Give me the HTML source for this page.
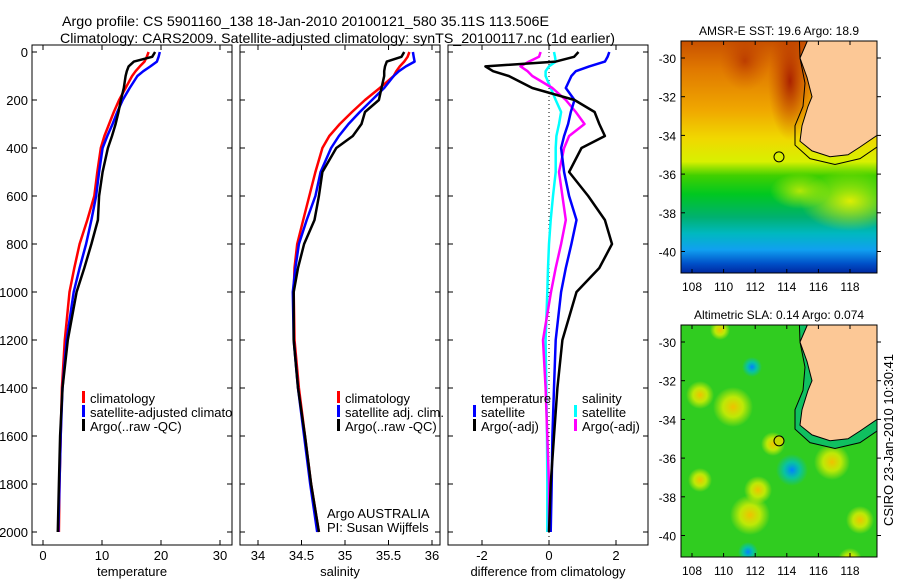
<!DOCTYPE html>
<html><head><meta charset="utf-8"><style>
body{margin:0;background:#fff;}
svg{display:block;font-family:"Liberation Sans",sans-serif;}
</style></head><body>
<svg id="fig" width="900" height="580" viewBox="0 0 900 580" xmlns="http://www.w3.org/2000/svg">
<rect width="900" height="580" fill="#fff"/>
<text x="62" y="26" font-size="14" textLength="487" lengthAdjust="spacingAndGlyphs">Argo profile: CS 5901160_138 18-Jan-2010 20100121_580 35.11S 113.506E</text>
<text x="60" y="43" font-size="14" textLength="555" lengthAdjust="spacingAndGlyphs">Climatology: CARS2009. Satellite-adjusted climatology: synTS_20100117.nc (1d earlier)</text>
<defs><clipPath id="p1clip"><rect x="32" y="45" width="200" height="500"/></clipPath></defs>
<g id="panels"></g>
<g id="maps"></g>
<text transform="translate(893,440) rotate(-90)" text-anchor="middle" font-size="13">CSIRO 23-Jan-2010 10:30:41</text>
</svg>
<script>
// depths (dbar) shared by profiles
const depths=[0,20,40,60,80,100,150,200,250,300,350,400,500,600,700,800,900,1000,1200,1400,1600,1800,2000];
const tempClim=[17.9,17.6,17.2,16.4,15.7,15.1,14.0,12.9,12.0,11.2,10.4,9.8,9.2,8.7,7.5,6.2,5.3,4.5,3.7,3.2,3.0,2.8,2.7];
const tempSat=[19.8,19.6,19.3,18.2,17.0,16.0,14.7,13.5,12.6,11.8,10.9,10.1,9.5,9.0,8.2,7.3,6.2,5.2,4.0,3.3,3.0,2.8,2.6];
const tempArgo=[19.0,18.5,15.4,14.5,14.2,14.0,13.7,13.2,12.8,12.3,11.7,11.0,10.1,9.5,9.3,8.2,7.0,5.7,4.2,3.3,2.9,2.7,2.5];
const salClim=[35.74,35.72,35.68,35.63,35.59,35.56,35.40,35.23,35.08,34.94,34.82,34.74,34.66,34.59,34.52,34.45,34.42,34.41,34.42,34.47,34.54,34.61,34.70];
const salSat=[35.78,35.79,35.80,35.70,35.62,35.56,35.45,35.31,35.17,35.04,34.93,34.84,34.72,34.66,34.56,34.47,34.43,34.40,34.41,34.46,34.53,34.60,34.68];
const salArgo=[35.68,35.65,35.48,35.46,35.45,35.45,35.42,35.39,35.23,35.19,35.09,34.90,34.74,34.70,34.65,34.53,34.46,34.41,34.41,34.46,34.54,34.61,34.70];
const dTempSat=[1.8,1.75,1.67,1.2,0.8,0.67,0.5,0.76,0.65,0.57,0.45,0.36,0.45,0.6,0.82,0.67,0.5,0.36,0.2,0.15,0.1,0.08,0.05];
const dTempArgo=[0.88,0.75,0.2,-1.9,-1.67,-1.2,-0.5,0.76,1.36,1.5,1.67,0.97,0.6,1.17,1.67,1.88,1.5,0.82,0.4,0.25,0.15,0.05,0.0];
const dSalSat=[0.15,0.18,0.2,0.0,-0.1,-0.1,0.05,0.2,0.36,0.3,0.22,0.2,0.2,0.12,0.05,0.0,-0.03,-0.05,-0.1,-0.08,-0.06,-0.05,-0.05];
const dSalArgo=[-0.25,-0.3,-0.6,-0.85,-0.64,-0.5,0.1,0.5,0.8,1.06,0.6,0.45,0.3,0.4,0.5,0.36,0.2,0.06,-0.18,-0.1,-0.05,0.0,0.0];
const depthTicks=[0,200,400,600,800,1000,1200,1400,1600,1800,2000];
const tempTicks=[0,10,20,30];
const salTicks=[34,34.5,35,35.5,36];
const diffTicks=[-2,0,2];

const NS="http://www.w3.org/2000/svg";
function mk(tag,attrs,parent,txt){const e=document.createElementNS(NS,tag);for(const k in attrs)e.setAttribute(k,attrs[k]);if(txt!==undefined)e.textContent=txt;parent.appendChild(e);return e;}
const yScale=d=>52+0.24*d;
const panelsG=document.getElementById('panels');
const panels=[
 {name:'temperature',x0:32,x1:232,xs:v=>43+5.9*v,ticks:tempTicks,title:'temperature',
  series:[[tempClim,'#f00',2.5],[tempSat,'#00f',2.5],[tempArgo,'#000',2.5]]},
 {name:'salinity',x0:240,x1:440,xs:v=>258+87*(v-34),ticks:salTicks,title:'salinity',
  series:[[salClim,'#f00',2.5],[salSat,'#00f',2.5],[salArgo,'#000',2.5]]},
 {name:'difference',x0:448,x1:648,xs:v=>549+33.5*v,ticks:diffTicks,title:'difference from climatology',
  series:[[dSalSat,'#0ff',2.5],[dSalArgo,'#f0f',2.5],[dTempSat,'#00f',2.5],[dTempArgo,'#000',2.5]]}
];
panels.forEach((p,pi)=>{
  const g=mk('g',{},panelsG);
  
  
  const fr=mk('rect',{x:p.x0,y:45,width:p.x1-p.x0,height:500,fill:'none',stroke:'#000','stroke-width':1},g);
  
  
  depthTicks.forEach(d=>{
    const y=yScale(d);
    mk('line',{x1:p.x0,x2:p.x0+5,y1:y,y2:y,stroke:'#000'},g);
    mk('line',{x1:p.x1-5,x2:p.x1,y1:y,y2:y,stroke:'#000'},g);
    if(pi===0){const t=mk('text',{x:28,y:y+5,'text-anchor':'end','font-size':13},g,String(d));
      
      }
  });
  p.ticks.forEach(v=>{
    const x=p.xs(v);
    mk('line',{x1:x,x2:x,y1:545,y2:540,stroke:'#000'},g);
    mk('line',{x1:x,x2:x,y1:45,y2:50,stroke:'#000'},g);
    const t=mk('text',{x:x,y:560,'text-anchor':'middle','font-size':13},g,String(v));
    
    
  });
  const at=mk('text',{x:(p.x0+p.x1)/2,y:576,'text-anchor':'middle','font-size':13},g,p.title);
  
  
  if(pi===2){mk('line',{x1:p.xs(0),x2:p.xs(0),y1:52,y2:545,stroke:'#000','stroke-dasharray':'1,3'},g);}
  p.series.forEach(s=>{
    const pts=depths.map((d,i)=>p.xs(s[0][i]).toFixed(1)+','+yScale(d).toFixed(1)).join(' ');
    const l=mk('polyline',{points:pts,fill:'none',stroke:s[1],'stroke-width':s[2],'stroke-linejoin':'round'},g);
    
    
  });
});
// legends
function legend(x,y,color,label,name,clip){
  const g=mk('g',clip?{'clip-path':'url(#p1clip)'}:{},panelsG);
  
  
  mk('rect',{x:x,y:y-7,width:3,height:12,fill:color},g);
  mk('text',{x:x+8,y:y+5,'font-size':13},g,label);
}
legend(82,398,'#f00','climatology','legend-climatology',true);
legend(82,412,'#00f','satellite-adjusted climatology','legend-satellite-adjusted',true);
legend(82,426,'#000','Argo(..raw -QC)','legend-argo',true);
legend(337,398,'#f00','climatology','legend-sal-climatology');
legend(337,412,'#00f','satellite adj. clim.','legend-sal-satellite');
legend(337,426,'#000','Argo(..raw -QC)','legend-sal-argo');
mk('text',{x:481,y:403,'font-size':13},panelsG,'temperature');
mk('text',{x:582,y:403,'font-size':13},panelsG,'salinity');
legend(473,412,'#00f','satellite','legend-diff-temp-satellite');
legend(473,426,'#000','Argo(-adj)','legend-diff-temp-argo');
legend(574,412,'#0ff','satellite','legend-diff-sal-satellite');
legend(574,426,'#f0f','Argo(-adj)','legend-diff-sal-argo');
mk('text',{x:327,y:518,'font-size':13},panelsG,'Argo AUSTRALIA');
mk('text',{x:327,y:532,'font-size':13},panelsG,'PI: Susan Wijffels');

// maps
const lonTicks=[108,110,112,114,116,118];
const latTicks=[-30,-32,-34,-36,-38,-40];
const mapsG=document.getElementById('maps');
const defs=mk('defs',{},mapsG);
const gr=mk('linearGradient',{id:'sst',x1:0,y1:0,x2:0,y2:1},defs);
[[0,'#c85000'],[0.12,'#e07800'],[0.3,'#f0a800'],[0.42,'#f0d800'],[0.52,'#d8f000'],[0.58,'#40d000'],[0.66,'#00c820'],[0.76,'#00b070'],[0.83,'#00b8c0'],[0.9,'#10a0f0'],[0.96,'#0050c8'],[1,'#0028a0']].forEach(s=>mk('stop',{offset:s[0],'stop-color':s[1]},gr));
const rg=mk('radialGradient',{id:'blobY'},defs);
mk('stop',{offset:0,'stop-color':'#f0c000'},rg);mk('stop',{offset:0.5,'stop-color':'#e0f000','stop-opacity':0.8},rg);mk('stop',{offset:1,'stop-color':'#e0f000','stop-opacity':0},rg);
const rb=mk('radialGradient',{id:'blobB'},defs);
mk('stop',{offset:0,'stop-color':'#0080ff'},rb);mk('stop',{offset:0.5,'stop-color':'#00c0c0','stop-opacity':0.8},rb);mk('stop',{offset:1,'stop-color':'#00c0c0','stop-opacity':0},rb);
const rr=mk('radialGradient',{id:'blobR'},defs);
mk('stop',{offset:0,'stop-color':'#a01000','stop-opacity':0.85},rr);mk('stop',{offset:1,'stop-color':'#c04000','stop-opacity':0},rr);
const ry=mk('radialGradient',{id:'blobYY'},defs);
mk('stop',{offset:0,'stop-color':'#e8f000','stop-opacity':0.95},ry);mk('stop',{offset:1,'stop-color':'#e8f000','stop-opacity':0},ry);

function drawMap(top,latY0,titleTxt,kind){
  const g=mk('g',{},mapsG);
  
  
  const lx=v=>692+15.8*(v-108);
  const ly=v=>latY0+19.35*(-30-v);
  const cp=mk('clipPath',{id:'clip'+kind},defs);
  mk('rect',{x:681,y:top,width:196,height:232},cp);
  const b=mk('g',{'clip-path':'url(#clip'+kind+')'},g);
  if(kind==='sst'){
    mk('rect',{x:681,y:top,width:196,height:232,fill:'url(#sst)'},b);
    mk('ellipse',{cx:790,cy:top+40,rx:22,ry:60,fill:'url(#blobR)'},b);
    mk('ellipse',{cx:745,cy:top+20,rx:25,ry:30,fill:'url(#blobR)',opacity:0.6},b);
    mk('ellipse',{cx:850,cy:top+160,rx:50,ry:30,fill:'url(#blobYY)'},b);
    mk('ellipse',{cx:800,cy:top+150,rx:30,ry:18,fill:'url(#blobYY)',opacity:0.8},b);
  }else{
    mk('rect',{x:681,y:top,width:196,height:232,fill:'#30cc20'},b);
    [[733,407,20],[750,515,20],[832,462,18],[773,444,12],[758,490,14],[700,395,14],[860,520,14],[720,330,10],[700,480,12],[850,560,12]].forEach(c=>mk('circle',{cx:c[0],cy:c[1],r:c[2],fill:'url(#blobY)'},b));
    [[792,470,16],[748,552,10],[752,367,10]].forEach(c=>mk('circle',{cx:c[0],cy:c[1],r:c[2],fill:'url(#blobB)'},b));
    mk('path',{d:'M'+lx(114.8)+' '+top+' L800 '+ly(-30.0)+' L805 '+ly(-31.3)+' L803 '+ly(-32.5)+' L795 '+ly(-33.5)+' L795 '+ly(-34.5)+' L810 '+ly(-35.2)+' L835 '+ly(-35.5)+' L860 '+ly(-35.2)+' L877 '+ly(-34.6)+' L877 '+top+'Z',fill:'#10c060'},b);
  }
  const land='M'+lx(115.3)+' '+top+' L877 '+top+' L877 '+ly(-34.0)+' L860 '+ly(-34.6)+' L848 '+ly(-35.0)+' L830 '+ly(-35.1)+' L812 '+ly(-34.8)+' L800 '+ly(-34.3)+' L802 '+ly(-33.5)+' L808 '+ly(-32.5)+' L812 '+ly(-32.0)+' L807 '+ly(-31.0)+' L800 '+ly(-30.0)+'Z';
  const shelf='M'+lx(114.8)+' '+top+' L800 '+ly(-30.0)+' L805 '+ly(-31.3)+' L803 '+ly(-32.5)+' L795 '+ly(-33.5)+' L795 '+ly(-34.5)+' L810 '+ly(-35.2)+' L835 '+ly(-35.5)+' L860 '+ly(-35.2)+' L877 '+ly(-34.6);
  mk('path',{d:shelf,fill:'none',stroke:'#000','stroke-width':1},b);
  const lp=mk('path',{d:land,fill:'#fcc896',stroke:'#000','stroke-width':1},b);
  
  
  const mkr=mk('circle',{cx:lx(113.506),cy:ly(-35.11),r:5,fill:kind==='sst'?'#d8f000':'#c8d800',stroke:'#000'},g);
  
  
  mk('rect',{x:681,y:top,width:196,height:232,fill:'none',stroke:'#000'},g);
  lonTicks.forEach(v=>{const x=lx(v);mk('line',{x1:x,x2:x,y1:top,y2:top+4,stroke:'#000'},g);mk('line',{x1:x,x2:x,y1:top+232,y2:top+228,stroke:'#000'},g);
    const t=mk('text',{x:x,y:top+250,'text-anchor':'middle','font-size':12},g,String(v));
    
    });
  latTicks.forEach(v=>{const y=ly(v);mk('line',{x1:681,x2:685,y1:y,y2:y,stroke:'#000'},g);mk('line',{x1:877,x2:881,y1:y,y2:y,stroke:'#000'},g);
    const t=mk('text',{x:676,y:y+5,'text-anchor':'end','font-size':12},g,String(v));
    
    });
  const tt=mk('text',{x:779,y:top-6,'text-anchor':'middle','font-size':12},g,titleTxt);
  
  
}
drawMap(41,58,'AMSR-E SST: 19.6 Argo: 18.9','sst');
drawMap(325,342,'Altimetric SLA: 0.14 Argo: 0.074','sla');
</script>
</body></html>
